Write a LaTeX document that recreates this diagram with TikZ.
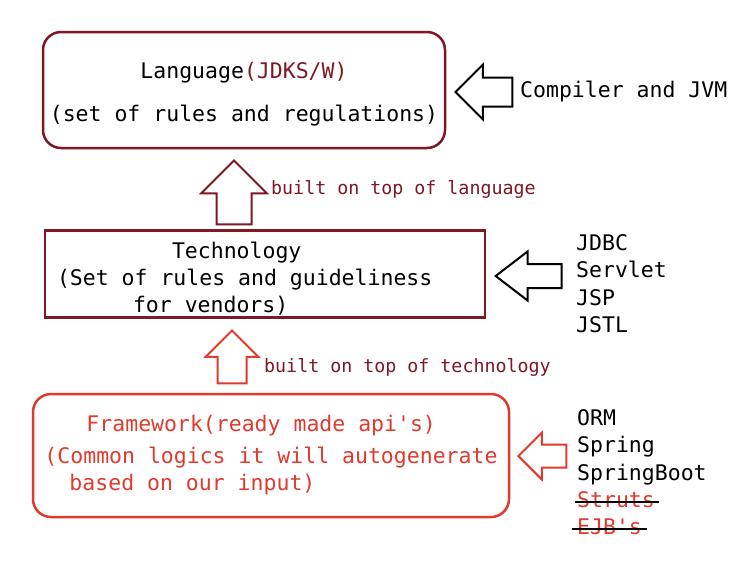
\documentclass[tikz,border=0pt]{standalone}
\usepackage{fontspec}
\setmainfont{DejaVu Sans Mono}[WordSpace={1,0,0}]
\usetikzlibrary{shapes.arrows,positioning}
\definecolor{maroon}{RGB}{125,24,36}
\definecolor{fwred}{RGB}{224,58,46}

\begin{document}
\begin{tikzpicture}[
    x=1pt, y=-1pt,
    every node/.style={font=\fontsize{21.5}{27}\selectfont},
    layer/.style={draw, line width=2.5pt, inner sep=0pt},
    blockarrow/.style={single arrow, draw, line width=2pt, fill=white, inner xsep=0pt, single arrow tip angle=90, anchor=tip},
    note/.style={font=\fontsize{18.3}{22}\selectfont, text=maroon, anchor=base west, inner sep=0pt},
    item/.style={inner sep=0pt, text height=19pt, text depth=8pt, anchor=north west},
    strike/.style={line width=2pt, black}
]
\useasboundingbox (0,0) rectangle (752,576);

% the three layers
\node[layer, draw=maroon, rounded corners=18pt, minimum width=402pt, minimum height=116pt, text height=67pt, align=center] (lang) at (244,90)
    {Language{\color{maroon}(JDKS/W)}\\[16pt](set of rules and regulations)};
\node[layer, draw=maroon, minimum width=440pt, minimum height=87pt, text width=416pt, text height=25pt, align=left] (tech) at (265,274)
    {\spaceskip=0pt\relax\hspace*{115pt}Technology\\(Set of rules and guideliness\\\hspace*{76pt}for vendors)};
\node[layer, draw=fwred, text=fwred, rounded corners=18pt, minimum width=476pt, minimum height=123pt, align=left] (frame) at (271,455.5)
    {\hspace*{42pt}Framework(ready made api\textquotesingle s)\\[5pt](Common logics it will autogenerate\\\hspace*{25pt}based on our input)};

% built on top of
\node[blockarrow, draw=maroon, rotate=90, minimum height=64pt, single arrow head extend=15.5pt, inner ysep=16.5pt] (langarrow) at (234,159) {};
\node[note] (langnote) at (271,194) {built on top of language};
\node[blockarrow, draw=fwred, rotate=90, minimum height=53pt, single arrow head extend=12pt, inner ysep=13.5pt] (techarrow) at (232,329) {};
\node[note] (technote) at (264,372) {built on top of technology};

% examples on the right
\node[blockarrow, shape border rotate=180, minimum height=57pt, single arrow head extend=13pt, inner ysep=13.5pt] (jvmarrow) at (454,92) {};
\node[anchor=base west, inner sep=0pt] (jvm) at (520,97) {Compiler and JVM};

\node[blockarrow, shape border rotate=180, minimum height=66pt, single arrow head extend=12.5pt, inner ysep=11pt, single arrow tip angle=75] (specarrow) at (494,276) {};
\node[item] (jdbc) at (576,231) {JDBC};
\node[below=0pt of jdbc.south west, item] (servlet) {Servlet};
\node[below=0pt of servlet.south west, item] (jsp) {JSP};
\node[below=0pt of jsp.south west, item] (jstl) {JSTL};

\node[blockarrow, draw=fwred, shape border rotate=180, minimum height=48pt, single arrow head extend=12pt, inner ysep=10.5pt] (fwarrow) at (517,456) {};
\node[item] (orm) at (577,406) {ORM};
\node[below=0pt of orm.south west, item] (spring) {Spring};
\node[below=0pt of spring.south west, item] (boot) {SpringBoot};
\node[below=0pt of boot.south west, item, text=fwred] (struts) {Struts};
\node[below=0pt of struts.south west, item, text=fwred] (ejb) {EJB\textquotesingle s};
\draw[strike] ([xshift=-2pt]struts.west) -- ([xshift=4pt]struts.east);
\draw[strike] ([xshift=-5pt]ejb.west) -- ([xshift=5pt]ejb.east);
\end{tikzpicture}
\end{document}
